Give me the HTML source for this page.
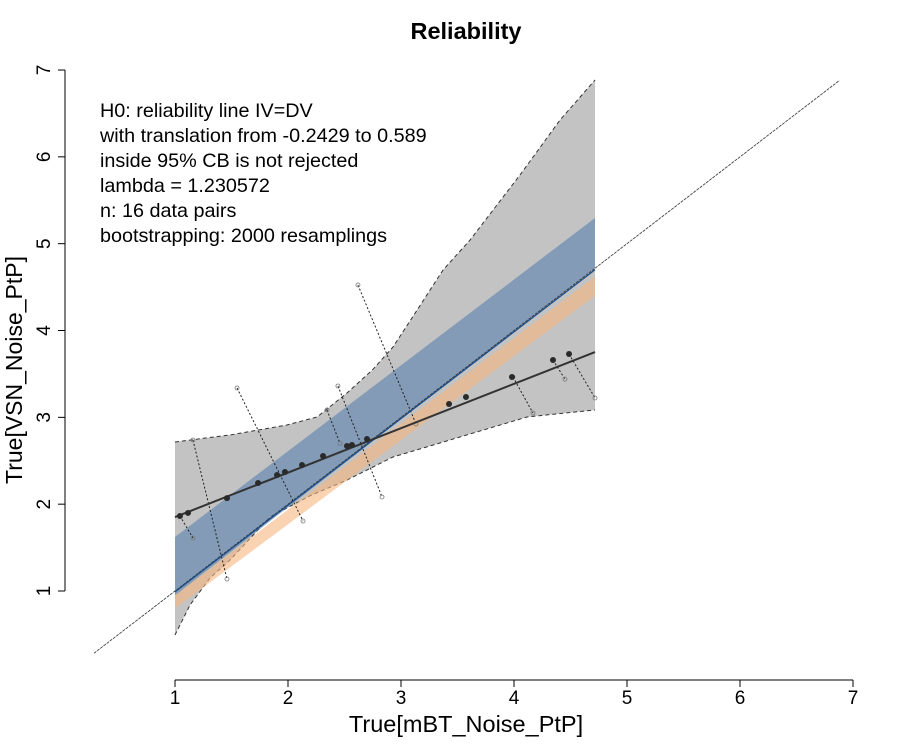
<!DOCTYPE html>
<html><head><meta charset="utf-8"><style>
body{margin:0;background:#fff}
svg text{font-family:"Liberation Sans",Arial,sans-serif}
</style></head><body>
<svg id="c" width="900" height="750" xmlns="http://www.w3.org/2000/svg">
<text x="466" y="39" text-anchor="middle" font-size="23.5" font-weight="bold">Reliability</text>
<g id="plot"></g>
<g font-size="19.8">
<text x="100" y="117">H0: reliability line IV=DV</text>
<text x="100" y="142">with translation from -0.2429 to 0.589</text>
<text x="100" y="167">inside 95% CB is not rejected</text>
<text x="100" y="192">lambda = 1.230572</text>
<text x="100" y="217">n: 16 data pairs</text>
<text x="100" y="242">bootstrapping: 2000 resamplings</text>
</g>
<text x="466" y="732" text-anchor="middle" font-size="23.5">True[mBT_Noise_PtP]</text>
<text transform="translate(22,370) rotate(-90)" text-anchor="middle" font-size="23">True[VSN_Noise_PtP]</text>
</svg>
<script>
const xVals=[1.044,1.115,1.46,1.735,1.903,1.973,2.124,2.31,2.522,2.566,2.699,3.425,3.575,3.982,4.345,4.487];
const yVals=[1.864,1.899,2.07,2.244,2.336,2.37,2.451,2.555,2.67,2.681,2.75,3.153,3.234,3.464,3.66,3.729];
const ticks=[1,2,3,4,5,6,7];
const grayUpper=[[1.0,2.716],[1.5,2.8],[1.991,2.912],[2.257,3.004],[2.522,3.28],[2.75,3.55],[2.929,3.81],[3.15,4.25],[3.372,4.697],[3.611,5.042],[4.053,5.791],[4.407,6.424],[4.717,6.885]];
const grayLower=[[1.0,0.493],[1.133,0.839],[1.31,1.15],[1.487,1.357],[1.841,1.852],[2.2,2.1],[2.522,2.278],[2.929,2.543],[3.522,2.774],[4.115,3.004],[4.717,3.085]];
const blueBand=[[1.0,1.622],[4.717,5.296],[4.717,4.72],[1.0,0.95]];
const orangeBand=[[1.0,0.95],[4.717,4.62],[4.717,4.40],[1.0,0.80]];
const blueLine=[[1.0,0.99],[4.717,4.70]];
const regLine=[[1.0,1.852],[4.717,3.752]];
const identity=[[0.283,0.283],[6.88,6.88]];
const segs=[[1.159,2.739,1.46,1.138],[1.549,3.338,2.133,1.806],[2.442,3.361,2.832,2.083],[2.345,3.085,2.46,2.70],[2.619,4.524,3.133,2.923],[1.044,1.864,1.159,1.61],[3.991,3.464,4.168,3.05],[4.345,3.66,4.451,3.44],[4.487,3.729,4.717,3.223]];
const X=v=>175+(v-1)*113, Y=v=>591-(v-1)*86.83;
const NS="http://www.w3.org/2000/svg", g=document.getElementById('plot');
function mk(t,a,n){const e=document.createElementNS(NS,t);for(const k in a)e.setAttribute(k,a[k]);


g.appendChild(e);return e;}
const pts=a=>a.map(p=>X(p[0])+','+Y(p[1])).join(' ');
mk('polygon',{points:pts(grayUpper.concat(grayLower.slice().reverse())),fill:'#c3c3c3'},'confidence-band');
mk('polyline',{points:pts(grayUpper),fill:'none',stroke:'#333','stroke-dasharray':'4,3','stroke-width':1},'band-upper');
mk('polyline',{points:pts(grayLower),fill:'none',stroke:'#333','stroke-dasharray':'4,3','stroke-width':1},'band-lower');
mk('polygon',{points:pts(orangeBand),fill:'#f5b57f',opacity:0.6},'orange-band');
mk('polygon',{points:pts(blueBand),fill:'#4f7aab',opacity:0.55},'blue-band');
mk('polyline',{points:pts(identity),fill:'none',stroke:'#333','stroke-width':0.8,'stroke-dasharray':'3,1'},'identity-line');
segs.forEach(s=>{mk('line',{x1:X(s[0]),y1:Y(s[1]),x2:X(s[2]),y2:Y(s[3]),stroke:'#222','stroke-dasharray':'2,2','stroke-width':1},'residual-segment');
mk('circle',{cx:X(s[0]),cy:Y(s[1]),r:2,fill:'none',stroke:'#777','stroke-width':0.8},'segment-end');
mk('circle',{cx:X(s[2]),cy:Y(s[3]),r:2,fill:'none',stroke:'#777','stroke-width':0.8},'segment-end');});
mk('polyline',{points:pts(blueLine),fill:'none',stroke:'#1f4f8a','stroke-width':1.3},'deming-line');
mk('polyline',{points:pts(regLine),fill:'none',stroke:'#333','stroke-width':2},'regression-line');
xVals.forEach((v,i)=>mk('circle',{cx:X(v),cy:Y(yVals[i]),r:3,fill:'#2a2a2a'},'data-point'));
mk('line',{x1:X(1),y1:680,x2:X(7),y2:680,stroke:'#000'},'x-axis');
mk('line',{x1:65,y1:Y(1),x2:65,y2:Y(7),stroke:'#000'},'y-axis');
ticks.forEach(t=>{mk('line',{x1:X(t),y1:680,x2:X(t),y2:687,stroke:'#000'},'x-tick');
const a=mk('text',{x:X(t),y:704,'text-anchor':'middle','font-size':19},'x-tick-label');a.textContent=t;
mk('line',{x1:58,y1:Y(t),x2:65,y2:Y(t),stroke:'#000'},'y-tick');
const b=mk('text',{transform:`translate(50,${Y(t)}) rotate(-90)`,'text-anchor':'middle','font-size':19},'y-tick-label');b.textContent=t;});
</script>
</body></html>
